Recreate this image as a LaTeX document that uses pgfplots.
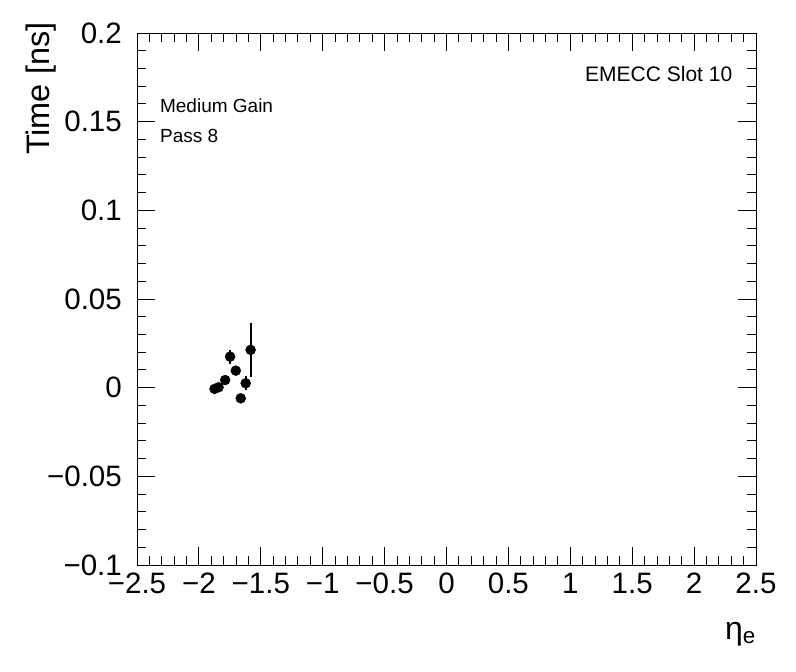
\documentclass[border=0pt]{standalone}
\usepackage{pgfplots}
\pgfplotsset{compat=1.18}
\usepackage{fontspec}
\setmainfont{Liberation Sans}
\begin{document}
\begin{tikzpicture}
\useasboundingbox (-137pt,-107pt) rectangle (659pt,565pt);
\begin{axis}[
  at={(0,0)}, anchor=south west,
  scale only axis, width=619pt, height=532pt,
  xmin=-2.5, xmax=2.5, ymin=-0.1, ymax=0.2,
  xtick={-2.5,-2,-1.5,-1,-0.5,0,0.5,1,1.5,2,2.5},
  xticklabels={−2.5,−2,−1.5,−1,−0.5,0,0.5,1,1.5,2,2.5},
  ytick={-0.1,-0.05,0,0.05,0.1,0.15,0.2},
  yticklabels={−0.1,−0.05,0,0.05,0.1,0.15,0.2},
  minor x tick num=4, minor y tick num=4,
  tick align=inside, tick pos=both,
  major tick length=18pt, minor tick length=9pt,
  every tick/.style={black, line width=0.9pt},
  axis line style={line width=0.9pt},
  ticklabel style={font=\fontsize{29.5}{31}\selectfont},
  xticklabel style={anchor=north, inner sep=0pt, text height=21pt, text depth=0pt, yshift=-7pt},
  yticklabel style={anchor=east, inner sep=0pt, xshift=-15pt},
  scaled ticks=false,
  xlabel={η\textsubscript{e}},
  ylabel={Time [ns]},
  xlabel style={at={(axis description cs:1,-0.107)}, anchor=north east, font=\fontsize{32}{34}\selectfont, inner sep=0pt},
  ylabel style={at={(axis description cs:-0.13,1.02)}, anchor=south east, font=\fontsize{32.5}{34}\selectfont, inner sep=0pt},
  clip=false,
]
\addplot[only marks, mark=*, mark size=5pt, black,
  error bars/.cd, y dir=both, y explicit, error mark=none,
  error bar style={line width=2pt, black}]
  table[x=x, y=y, y error=e] {
x y e
-1.874 -0.0007 0.0015
-1.841 0.0002 0.0015
-1.788 0.0043 0.0015
-1.748 0.0175 0.0040
-1.702 0.0096 0.0015
-1.662 -0.0060 0.0018
-1.622 0.0025 0.0038
-1.582 0.0213 0.0152
};
\node[anchor=base east, font=\fontsize{21}{23}\selectfont, inner sep=0pt] at (axis description cs:0.962,0.908) {EMECC Slot 10};
\node[anchor=base west, font=\fontsize{19}{21}\selectfont, inner sep=0pt] at (axis description cs:0.037,0.850) {Medium Gain};
\node[anchor=base west, font=\fontsize{19}{21}\selectfont, inner sep=0pt] at (axis description cs:0.037,0.795) {Pass 8};
\end{axis}
\end{tikzpicture}
\end{document}
